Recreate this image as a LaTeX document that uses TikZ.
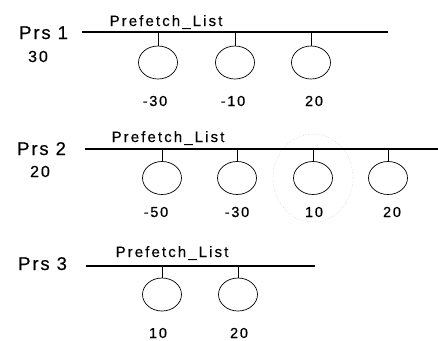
\documentclass[tikz,border=0pt]{standalone}
\usepackage{fontspec}
\setmainfont{Liberation Sans}
\newfontfamily\prsfont[LetterSpace=10,FakeBold=0.5]{Liberation Sans}
\newfontfamily\pflfont[LetterSpace=14,FakeBold=0.4]{Liberation Sans}
\newfontfamily\numfont[LetterSpace=12,FakeBold=0.5]{Liberation Sans}
\usetikzlibrary{shapes.geometric}
\tikzset{
  elem/.style={draw, ellipse, line width=0.7pt, minimum width=39pt, minimum height=33pt, inner sep=0pt},
  listline/.style={line width=1.2pt},
  stem/.style={line width=1pt},
  prs/.style={inner sep=0pt, anchor=base west, font=\prsfont\fontsize{18.5}{20}\selectfont},
  cnt/.style={inner sep=0pt, anchor=base, font=\numfont\fontsize{16}{18}\selectfont},
  pfl/.style={inner sep=0pt, anchor=base, font=\pflfont\fontsize{15}{16}\selectfont},
  val/.style={inner sep=0pt, anchor=base, font=\numfont\fontsize{14.5}{16}\selectfont},
}
\begin{document}
\begin{tikzpicture}[x=1pt,y=1pt]
\useasboundingbox (0,0) rectangle (438,-340);
% faint artifact circle
\draw[gray!40, dotted, line width=0.6pt] (313,-178) ellipse [x radius=40, y radius=44];
% Row 1
\node[prs] (p1) at (19,-39) {Prs 1};
\node[cnt] (n1) at (38,-62) {30};
\node[pfl] (f1) at (166,-26) {Prefetch\_List};
\coordinate (l1s) at (82,-32);
\coordinate (l1e) at (388,-32);
\draw[listline] (l1s) -- (l1e);
\node[elem] (c11) at (158,-62.5) {};
\node[elem] (c12) at (235,-62.5) {};
\node[elem] (c13) at (311,-62.5) {};
\foreach \c in {c11,c12,c13} \draw[stem] (\c.north) -- (\c.north |- l1s);
\node[val] (v11) at (155,-106) {-30};
\node[val] (v12) at (233,-106) {-10};
\node[val] (v13) at (314,-106) {20};
% Row 2
\node[prs] (p2) at (17,-155) {Prs 2};
\node[cnt] (n2) at (40,-177) {20};
\node[pfl] (f2) at (168,-142) {Prefetch\_List};
\coordinate (l2s) at (85,-149);
\coordinate (l2e) at (438,-149);
\draw[listline] (l2s) -- (l2e);
\node[elem] (c21) at (162,-178) {};
\node[elem] (c22) at (237,-178) {};
\node[elem] (c23) at (313,-178) {};
\node[elem] (c24) at (388,-178) {};
\foreach \c in {c21,c22,c23,c24} \draw[stem] (\c.north) -- (\c.north |- l2s);
\node[val] (v21) at (156,-217) {-50};
\node[val] (v22) at (237,-217) {-30};
\node[val] (v23) at (314,-217) {10};
\node[val] (v24) at (392,-217) {20};
% Row 3
\node[prs] (p3) at (18,-270) {Prs 3};
\node[pfl] (f3) at (172,-257) {Prefetch\_List};
\coordinate (l3s) at (86,-266);
\coordinate (l3e) at (315,-266);
\draw[listline] (l3s) -- (l3e);
\node[elem] (c31) at (162,-294.5) {};
\node[elem] (c32) at (238,-294.5) {};
\foreach \c in {c31,c32} \draw[stem] (\c.north) -- (\c.north |- l3s);
\node[val] (v31) at (158,-338) {10};
\node[val] (v32) at (239,-338) {20};
\end{tikzpicture}
\end{document}
